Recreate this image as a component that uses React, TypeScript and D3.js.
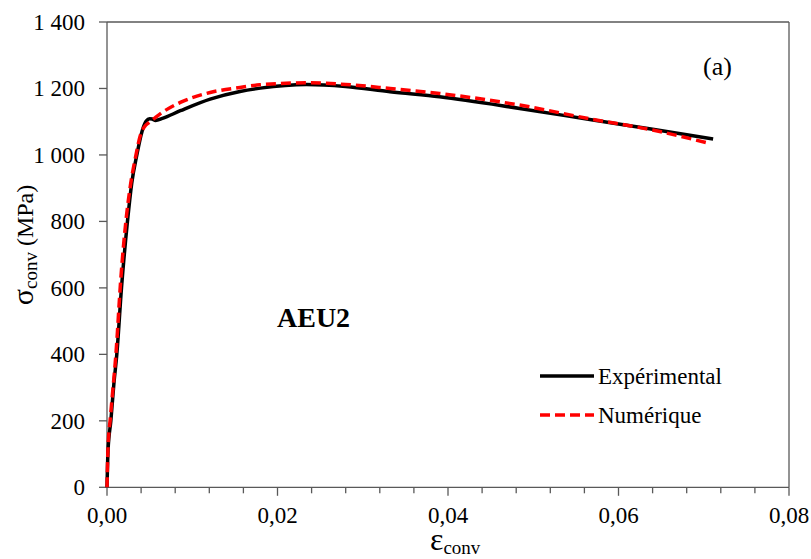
import React from "react";
import * as d3 from "d3";

const expStrain = [0, 0.00012, 0.00045, 0.0008, 0.00115, 0.0017, 0.0024, 0.0029, 0.0035, 0.0041, 0.0046, 0.0050, 0.0053, 0.0057, 0.0065, 0.0086, 0.0121, 0.0156, 0.018, 0.0234, 0.028, 0.0332, 0.039, 0.0484, 0.057, 0.064, 0.0711];
const expStress = [0, 110, 200, 310, 400, 600, 800, 915, 1000, 1070, 1102, 1109, 1108, 1104, 1110, 1133, 1168, 1191, 1201, 1212, 1206, 1190, 1175, 1140, 1105, 1077, 1048];

const numStrain = [0, 0.00012, 0.0004, 0.0011, 0.0016, 0.0023, 0.0027, 0.0034, 0.0039, 0.0044, 0.0049, 0.0055, 0.0062, 0.0086, 0.0121, 0.0156, 0.0179, 0.0234, 0.028, 0.0332, 0.039, 0.0484, 0.057, 0.064, 0.0703];
const numStress = [0, 120, 210, 420, 620, 820, 900, 1000, 1058, 1085, 1097, 1109, 1123, 1158, 1188, 1203, 1211, 1217, 1212, 1200, 1185, 1150, 1107, 1075, 1037];

const xTicks = [0, 0.02, 0.04, 0.06, 0.08];
const xTickLabels = ["0,00", "0,02", "0,04", "0,06", "0,08"];
const yTicks = [0, 200, 400, 600, 800, 1000, 1200, 1400];
const yTickLabels = ["0", "200", "400", "600", "800", "1 000", "1 200", "1 400"];
const seriesNames = ["Expérimental", "Numérique"];

const W = 811, H = 559;
const L = 107, R = 789, T = 22, B = 487.3;
const FONT = '"Liberation Serif", "Times New Roman", Times, serif';
const AX = "#595959";

export default function App() {
  const x = d3.scaleLinear().domain([0, 0.08]).range([L, R]);
  const y = d3.scaleLinear().domain([0, 1400]).range([B, T]);
  const line = d3.line<[number, number]>().x(d => x(d[0])).y(d => y(d[1])).curve(d3.curveMonotoneX);
  const expPts = expStrain.map((s, i) => [s, expStress[i]] as [number, number]);
  const numPts = numStrain.map((s, i) => [s, numStress[i]] as [number, number]);
  const minor = d3.range(0, 0.0801, 0.004);

  return (
    <svg width={W} height={H} style={{ position: "absolute", left: 0, top: 0, background: "#fff", fontFamily: FONT }}>
      <rect x={0} y={0} width={W} height={H} fill="#fff" />
      <line x1={L} y1={T} x2={R} y2={T} stroke={AX} strokeWidth={1.3} />
      <line x1={R} y1={T} x2={R} y2={B} stroke={AX} strokeWidth={1.3} />
      <line x1={L} y1={T} x2={L} y2={B} stroke={AX} strokeWidth={1.3} />
      <line x1={L} y1={B} x2={R} y2={B} stroke={AX} strokeWidth={1.3} />
      {minor.map((t, i) => (
        <line key={"m" + i} x1={x(t)} x2={x(t)} y1={B} y2={B + (i % 5 === 0 ? 8.5 : 6)} stroke={AX} strokeWidth={1.3} />
      ))}
      {xTicks.map((t, i) => (
        <text key={"xt" + i} x={x(t)} y={523} textAnchor="middle" fontSize={23} fill="#000" style={{ fontFamily: FONT }}>{xTickLabels[i]}</text>
      ))}
      {yTicks.map((t, i) => (
        <g key={"yt" + i}>
          <line x1={L - 8} x2={L} y1={y(t)} y2={y(t)} stroke={AX} strokeWidth={1.3} />
          <text x={85} y={y(t) + 8} textAnchor="end" fontSize={23} fill="#000" style={{ fontFamily: FONT }}>{yTickLabels[i]}</text>
        </g>
      ))}
      <path d={line(expPts) || ""} fill="none" stroke="#000" strokeWidth={3.5} strokeLinejoin="round" />
      <path d={line(numPts) || ""} fill="none" stroke="#ff0000" strokeWidth={3.5} strokeDasharray="10 5" />
      <text transform="translate(33,245) rotate(-90)" textAnchor="middle" fill="#000" style={{ fontFamily: FONT }}>
        <tspan fontSize={30}>σ</tspan>
        <tspan fontSize={19} dy={4}>conv</tspan>
        <tspan fontSize={24} dy={-4}> (MPa)</tspan>
      </text>
      <text x={430} y={550} fill="#000" style={{ fontFamily: FONT }}>
        <tspan fontSize={32}>ε</tspan>
        <tspan fontSize={19} dy={4}>conv</tspan>
      </text>
      <text x={703} y={75} fontSize={26} fill="#000" style={{ fontFamily: FONT }}>(a)</text>
      <text x={277} y={327} fontSize={28} fontWeight="bold" fill="#000" style={{ fontFamily: FONT }}>AEU2</text>
      <line x1={540} x2={594} y1={376} y2={376} stroke="#000" strokeWidth={3.5} />
      <text x={598} y={384} fontSize={23} fill="#000" style={{ fontFamily: FONT }}>{seriesNames[0]}</text>
      <line x1={540} x2={594} y1={415} y2={415} stroke="#ff0000" strokeWidth={3.5} strokeDasharray="10 5" />
      <text x={598} y={423} fontSize={23} fill="#000" style={{ fontFamily: FONT }}>{seriesNames[1]}</text>
    </svg>
  );
}
